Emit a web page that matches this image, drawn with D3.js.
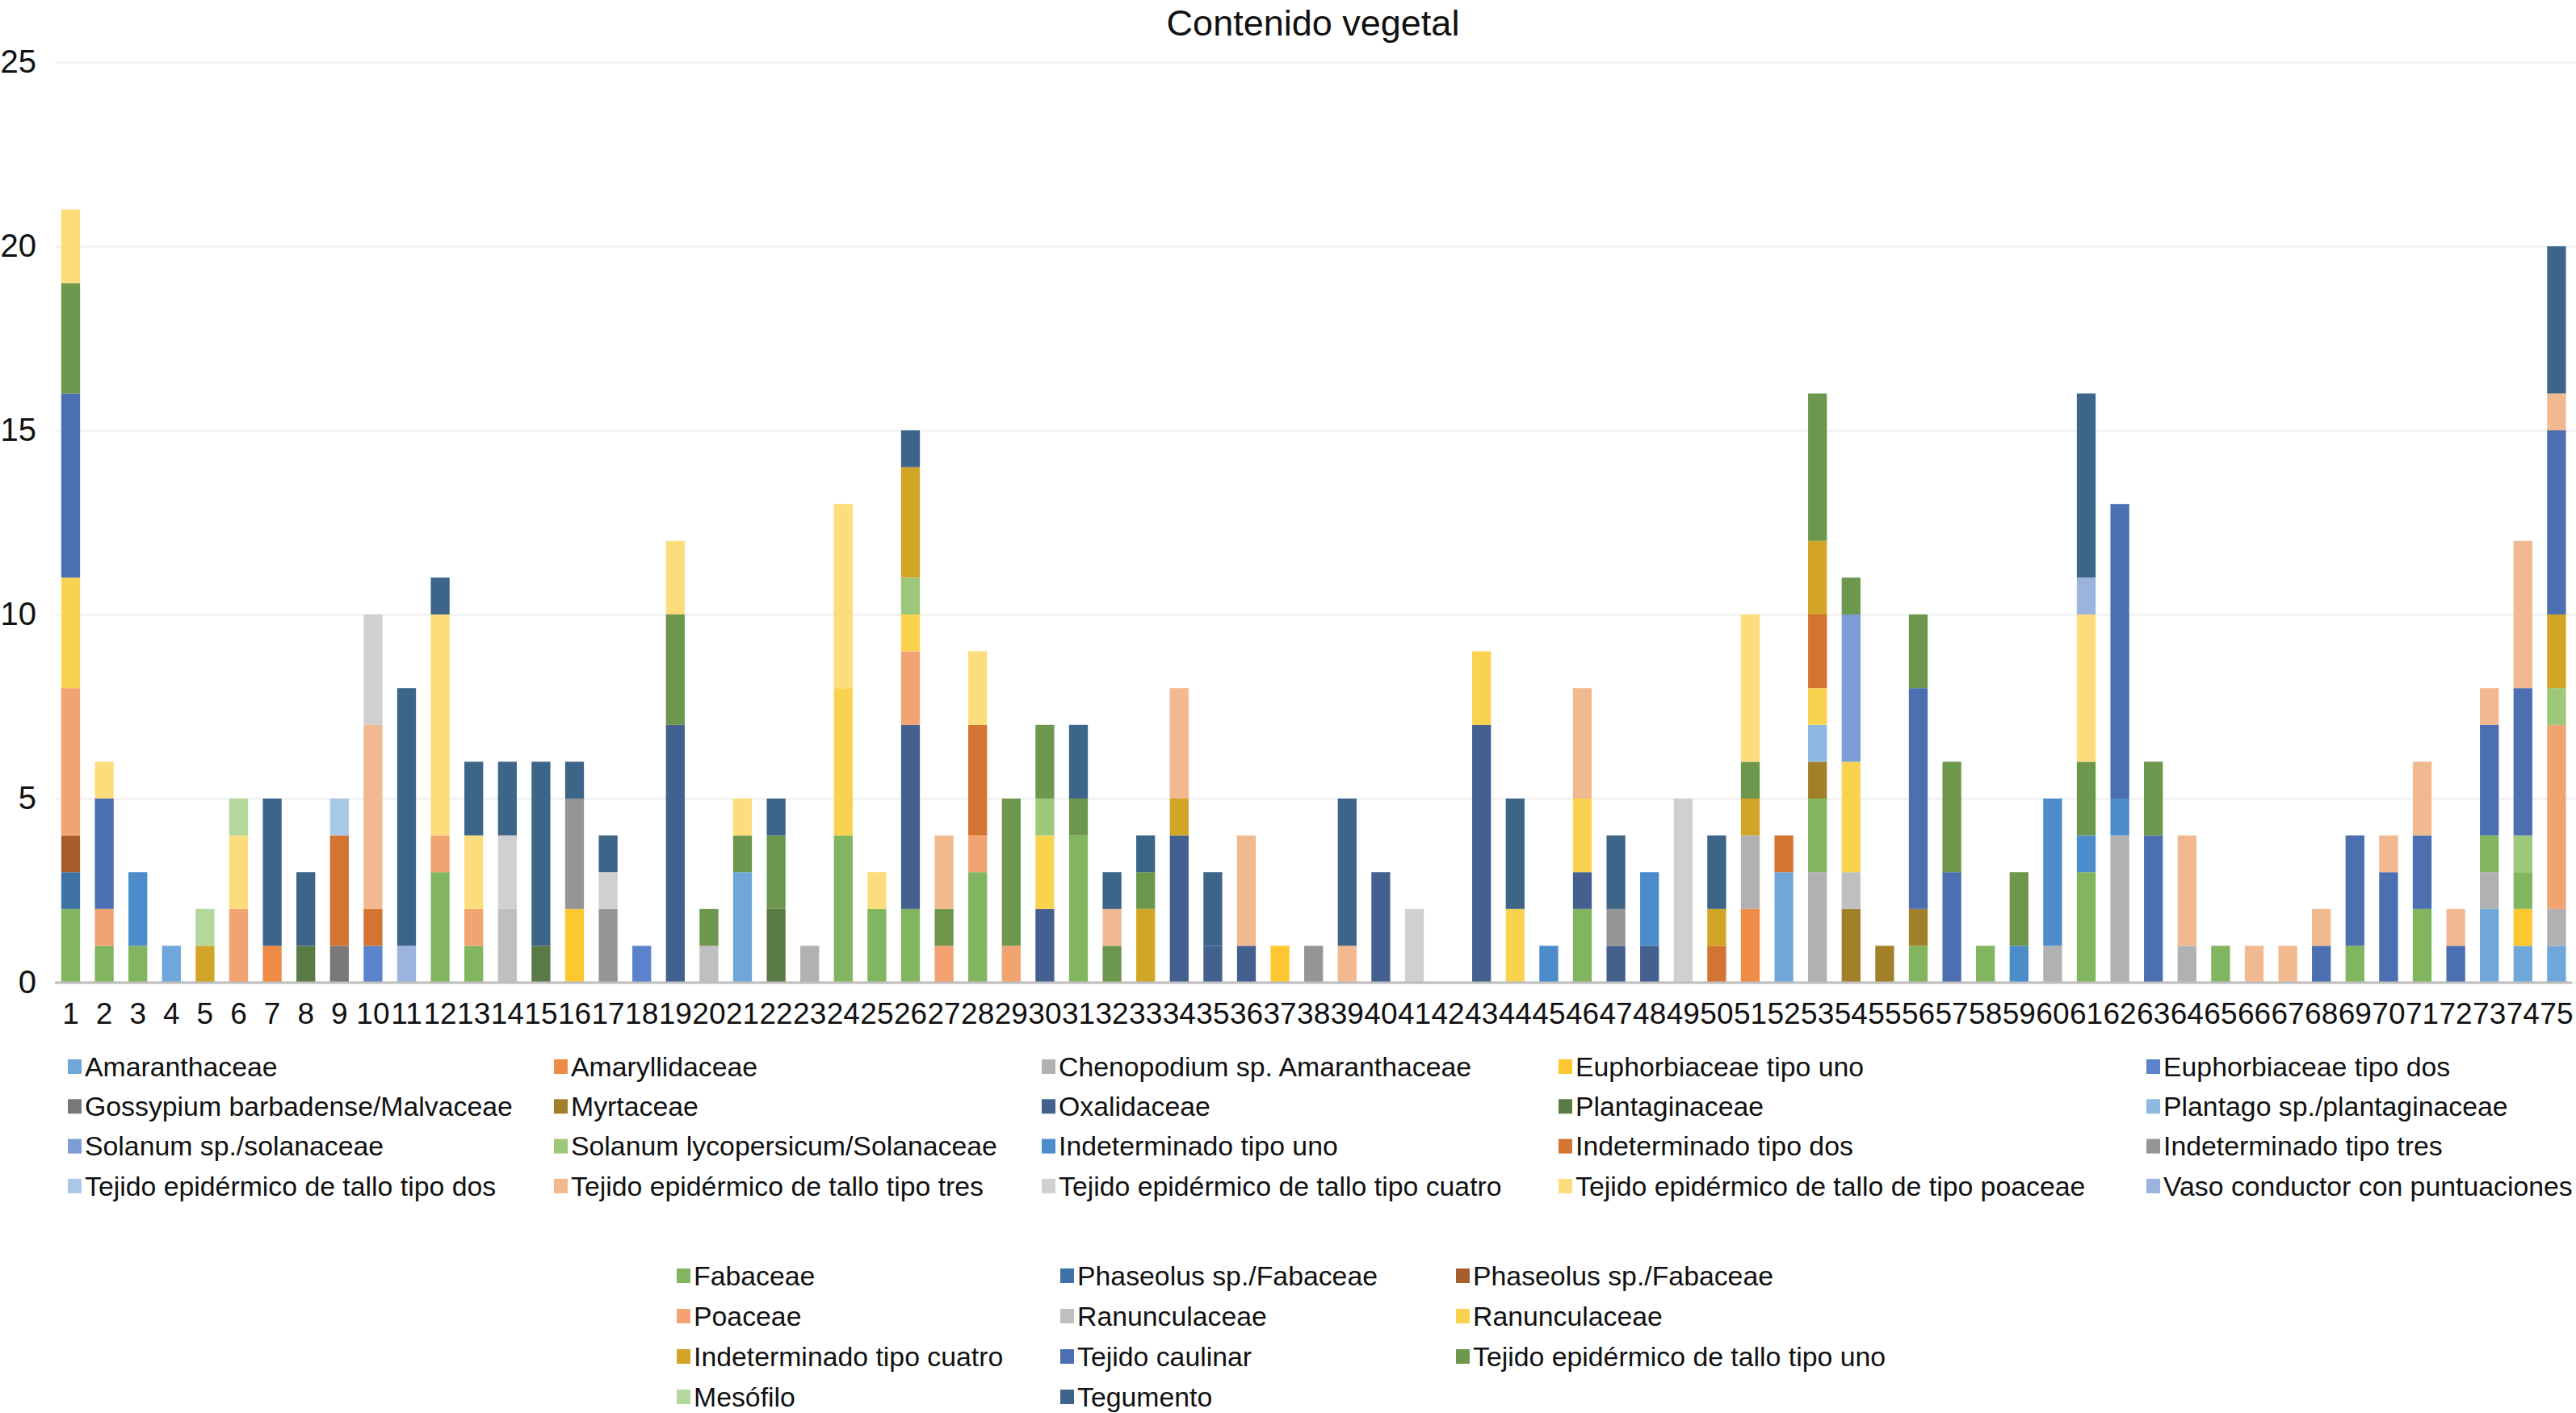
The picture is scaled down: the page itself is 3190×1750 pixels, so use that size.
<!DOCTYPE html>
<html>
<head>
<meta charset="utf-8">
<script src="https://cdn.jsdelivr.net/npm/d3@7"></script>
<style>
  body { margin: 0; background: #fff; }
  text { font-family: "Liberation Sans", Arial, Helvetica, sans-serif; fill: #111; }
</style>
</head>
<body>
<svg id="chart" width="3190" height="1750"></svg>
<script>
// muestras 1..75
var muestras = d3.range(1, 76).map(String);
var yTicks = [0, 5, 10, 15, 20, 25];

// valores por serie (muestra 1 a 75)
var amaranthaceae   = [0,0,0,1,0,0,0,0,0,0,0,0,0,0,0, 0,0,0,0,0,3,0,0,0,0,0,0,0,0,0, 0,0,0,0,0,0,0,0,0,0,0,0,0,0,0, 0,0,0,0,0,0,3,0,0,0,0,0,0,0,0, 0,0,0,0,0,0,0,0,0,0,0,0,2,1,1];
var amaryllidaceae  = [0,0,0,0,0,0,1,0,0,0,0,0,0,0,0, 0,0,0,0,0,0,0,0,0,0,0,0,0,0,0, 0,0,0,0,0,0,0,0,0,0,0,0,0,0,0, 0,0,0,0,0,2,0,0,0,0,0,0,0,0,0, 0,0,0,0,0,0,0,0,0,0,0,0,0,0,0];
var chenopodium     = [0,0,0,0,0,0,0,0,0,0,0,0,0,0,0, 0,0,0,0,0,0,0,1,0,0,0,0,0,0,0, 0,0,0,0,0,0,0,0,0,0,0,0,0,0,0, 0,0,0,0,0,2,0,3,0,0,0,0,0,0,1, 0,4,0,1,0,0,0,0,0,0,0,0,1,0,1];
var euphorbUno      = [0,0,0,0,0,0,0,0,0,0,0,0,0,0,0, 2,0,0,0,0,0,0,0,0,0,0,0,0,0,0, 0,0,0,0,0,0,1,0,0,0,0,0,0,0,0, 0,0,0,0,0,0,0,0,0,0,0,0,0,0,0, 0,0,0,0,0,0,0,0,0,0,0,0,0,1,0];
var euphorbDos      = [0,0,0,0,0,0,0,0,0,1,0,0,0,0,0, 0,0,1,0,0,0,0,0,0,0,0,0,0,0,0, 0,0,0,0,0,0,0,0,0,0,0,0,0,0,0, 0,0,0,0,0,0,0,0,0,0,0,0,0,0,0, 0,0,0,0,0,0,0,0,0,0,0,0,0,0,0];
var fabaceae        = [2,1,1,0,0,0,0,0,0,0,0,3,1,0,0, 0,0,0,0,0,0,0,0,4,2,2,0,3,0,0, 4,0,0,0,0,0,0,0,0,0,0,0,0,0,0, 2,0,0,0,0,0,0,2,0,0,1,0,1,0,0, 3,0,0,0,1,0,0,0,1,0,2,0,1,1,0];
var phaseolusA      = [1,0,0,0,0,0,0,0,0,0,0,0,0,0,0, 0,0,0,0,0,0,0,0,0,0,0,0,0,0,0, 0,0,0,0,0,0,0,0,0,0,0,0,0,0,0, 0,0,0,0,0,0,0,0,0,0,0,0,0,0,0, 0,0,0,0,0,0,0,0,0,0,0,0,0,0,0];
var phaseolusB      = [1,0,0,0,0,0,0,0,0,0,0,0,0,0,0, 0,0,0,0,0,0,0,0,0,0,0,0,0,0,0, 0,0,0,0,0,0,0,0,0,0,0,0,0,0,0, 0,0,0,0,0,0,0,0,0,0,0,0,0,0,0, 0,0,0,0,0,0,0,0,0,0,0,0,0,0,0];
var gossypium       = [0,0,0,0,0,0,0,0,1,0,0,0,0,0,0, 0,0,0,0,0,0,0,0,0,0,0,0,0,0,0, 0,0,0,0,0,0,0,0,0,0,0,0,0,0,0, 0,0,0,0,0,0,0,0,0,0,0,0,0,0,0, 0,0,0,0,0,0,0,0,0,0,0,0,0,0,0];
var myrtaceae       = [0,0,0,0,0,0,0,0,0,0,0,0,0,0,0, 0,0,0,0,0,0,0,0,0,0,0,0,0,0,0, 0,0,0,0,0,0,0,0,0,0,0,0,0,0,0, 0,0,0,0,0,0,0,1,2,1,1,0,0,0,0, 0,0,0,0,0,0,0,0,0,0,0,0,0,0,0];
var oxalidaceae     = [0,0,0,0,0,0,0,0,0,0,0,0,0,0,0, 0,0,0,7,0,0,0,0,0,0,5,0,0,0,2, 0,0,0,4,1,1,0,0,0,3,0,0,7,0,0, 1,1,1,0,0,0,0,0,0,0,0,0,0,0,0, 0,0,0,0,0,0,0,0,0,0,0,0,0,0,0];
var plantaginaceae  = [0,0,0,0,0,0,0,1,0,0,0,0,0,0,1, 0,0,0,0,0,0,2,0,0,0,0,0,0,0,0, 0,0,0,0,0,0,0,0,0,0,0,0,0,0,0, 0,0,0,0,0,0,0,0,0,0,0,0,0,0,0, 0,0,0,0,0,0,0,0,0,0,0,0,0,0,0];
var plantago        = [0,0,0,0,0,0,0,0,0,0,0,0,0,0,0, 0,0,0,0,0,0,0,0,0,0,0,0,0,0,0, 0,0,0,0,0,0,0,0,0,0,0,0,0,0,0, 0,0,0,0,0,0,0,1,0,0,0,0,0,0,0, 0,0,0,0,0,0,0,0,0,0,0,0,0,0,0];
var poaceae         = [4,1,0,0,0,2,0,0,0,0,0,1,1,0,0, 0,0,0,0,0,0,0,0,0,0,2,1,1,1,0, 0,0,0,0,0,0,0,0,0,0,0,0,0,0,0, 0,0,0,0,0,0,0,0,0,0,0,0,0,0,0, 0,0,0,0,0,0,0,0,0,0,0,0,0,0,5];
var ranuncGris      = [0,0,0,0,0,0,0,0,0,0,0,0,0,2,0, 0,0,0,0,1,0,0,0,0,0,0,0,0,0,0, 0,0,0,0,0,0,0,0,0,0,0,0,0,0,0, 0,0,0,0,0,0,0,0,1,0,0,0,0,0,0, 0,0,0,0,0,0,0,0,0,0,0,0,0,0,0];
var ranuncAmarillo  = [3,0,0,0,0,0,0,0,0,0,0,0,0,0,0, 0,0,0,0,0,0,0,0,4,0,1,0,0,0,2, 0,0,0,0,0,0,0,0,0,0,0,0,2,2,0, 2,0,0,0,0,0,0,1,3,0,0,0,0,0,0, 0,0,0,0,0,0,0,0,0,0,0,0,0,0,0];
var solanumSp       = [0,0,0,0,0,0,0,0,0,0,0,0,0,0,0, 0,0,0,0,0,0,0,0,0,0,0,0,0,0,0, 0,0,0,0,0,0,0,0,0,0,0,0,0,0,0, 0,0,0,0,0,0,0,0,4,0,0,0,0,0,0, 0,0,0,0,0,0,0,0,0,0,0,0,0,0,0];
var solanumLyc      = [0,0,0,0,0,0,0,0,0,0,0,0,0,0,0, 0,0,0,0,0,0,0,0,0,0,1,0,0,0,1, 0,0,0,0,0,0,0,0,0,0,0,0,0,0,0, 0,0,0,0,0,0,0,0,0,0,0,0,0,0,0, 0,0,0,0,0,0,0,0,0,0,0,0,0,1,1];
var indetUno        = [0,0,2,0,0,0,0,0,0,0,0,0,0,0,0, 0,0,0,0,0,0,0,0,0,0,0,0,0,0,0, 0,0,0,0,0,0,0,0,0,0,0,0,0,0,1, 0,0,2,0,0,0,0,0,0,0,0,0,0,1,4, 1,1,0,0,0,0,0,0,0,0,0,0,0,0,0];
var indetDos        = [0,0,0,0,0,0,0,0,3,1,0,0,0,0,0, 0,0,0,0,0,0,0,0,0,0,0,0,3,0,0, 0,0,0,0,0,0,0,0,0,0,0,0,0,0,0, 0,0,0,0,1,0,1,2,0,0,0,0,0,0,0, 0,0,0,0,0,0,0,0,0,0,0,0,0,0,0];
var indetTres       = [0,0,0,0,0,0,0,0,0,0,0,0,0,0,0, 3,2,0,0,0,0,0,0,0,0,0,0,0,0,0, 0,0,0,0,0,0,0,1,0,0,0,0,0,0,0, 0,1,0,0,0,0,0,0,0,0,0,0,0,0,0, 0,0,0,0,0,0,0,0,0,0,0,0,0,0,0];
var indetCuatro     = [0,0,0,0,1,0,0,0,0,0,0,0,0,0,0, 0,0,0,0,0,0,0,0,0,0,3,0,0,0,0, 0,0,2,1,0,0,0,0,0,0,0,0,0,0,0, 0,0,0,0,1,1,0,2,0,0,0,0,0,0,0, 0,0,0,0,0,0,0,0,0,0,0,0,0,0,2];
var tejCaulinar     = [5,3,0,0,0,0,0,0,0,0,0,0,0,0,0, 0,0,0,0,0,0,0,0,0,0,0,0,0,0,0, 0,0,0,0,0,0,0,0,0,0,0,0,0,0,0, 0,0,0,0,0,0,0,0,0,0,6,3,0,0,0, 0,8,4,0,0,0,0,1,3,3,2,1,3,4,5];
var tejUno          = [3,0,0,0,0,0,0,0,0,0,0,0,0,0,0, 0,0,0,3,1,1,2,0,0,0,0,1,0,4,2, 1,1,1,0,0,0,0,0,0,0,0,0,0,0,0, 0,0,0,0,0,1,0,4,1,0,2,3,0,2,0, 2,0,2,0,0,0,0,0,0,0,0,0,0,0,0];
var tejDos          = [0,0,0,0,0,0,0,0,1,0,0,0,0,0,0, 0,0,0,0,0,0,0,0,0,0,0,0,0,0,0, 0,0,0,0,0,0,0,0,0,0,0,0,0,0,0, 0,0,0,0,0,0,0,0,0,0,0,0,0,0,0, 0,0,0,0,0,0,0,0,0,0,0,0,0,0,0];
var tejTres         = [0,0,0,0,0,0,0,0,0,5,0,0,0,0,0, 0,0,0,0,0,0,0,0,0,0,0,2,0,0,0, 0,1,0,3,0,3,0,0,1,0,0,0,0,0,0, 3,0,0,0,0,0,0,0,0,0,0,0,0,0,0, 0,0,0,3,0,1,1,1,0,1,2,1,1,4,1];
var tejCuatro       = [0,0,0,0,0,0,0,0,0,3,0,0,0,2,0, 0,1,0,0,0,0,0,0,0,0,0,0,0,0,0, 0,0,0,0,0,0,0,0,0,0,2,0,0,0,0, 0,0,0,5,0,0,0,0,0,0,0,0,0,0,0, 0,0,0,0,0,0,0,0,0,0,0,0,0,0,0];
var tejPoaceae      = [2,1,0,0,0,2,0,0,0,0,0,6,2,0,0, 0,0,0,2,0,1,0,0,5,1,0,0,2,0,0, 0,0,0,0,0,0,0,0,0,0,0,0,0,0,0, 0,0,0,0,0,4,0,0,0,0,0,0,0,0,0, 4,0,0,0,0,0,0,0,0,0,0,0,0,0,0];
var vasoConductor   = [0,0,0,0,0,0,0,0,0,0,1,0,0,0,0, 0,0,0,0,0,0,0,0,0,0,0,0,0,0,0, 0,0,0,0,0,0,0,0,0,0,0,0,0,0,0, 0,0,0,0,0,0,0,0,0,0,0,0,0,0,0, 1,0,0,0,0,0,0,0,0,0,0,0,0,0,0];
var mesofilo        = [0,0,0,0,1,1,0,0,0,0,0,0,0,0,0, 0,0,0,0,0,0,0,0,0,0,0,0,0,0,0, 0,0,0,0,0,0,0,0,0,0,0,0,0,0,0, 0,0,0,0,0,0,0,0,0,0,0,0,0,0,0, 0,0,0,0,0,0,0,0,0,0,0,0,0,0,0];
var tegumento       = [0,0,0,0,0,0,4,2,0,0,7,1,2,2,5, 1,1,0,0,0,0,1,0,0,0,1,0,0,0,0, 2,1,1,0,2,0,0,0,4,0,0,0,0,3,0, 0,2,0,0,2,0,0,0,0,0,0,0,0,0,0, 5,0,0,0,0,0,0,0,0,0,0,0,0,0,4];

// orden de apilado = orden de la leyenda (8 columnas)
var nombres = [
  "Amaranthaceae", "Amaryllidaceae", "Chenopodium sp. Amaranthaceae", "Euphorbiaceae tipo uno",
  "Euphorbiaceae tipo dos", "Fabaceae", "Phaseolus sp./Fabaceae", "Phaseolus sp./Fabaceae",
  "Gossypium barbadense/Malvaceae", "Myrtaceae", "Oxalidaceae", "Plantaginaceae",
  "Plantago sp./plantaginaceae", "Poaceae", "Ranunculaceae", "Ranunculaceae",
  "Solanum sp./solanaceae", "Solanum lycopersicum/Solanaceae", "Indeterminado tipo uno", "Indeterminado tipo dos",
  "Indeterminado tipo tres", "Indeterminado tipo cuatro", "Tejido caulinar", "Tejido epidérmico de tallo tipo uno",
  "Tejido epidérmico de tallo tipo dos", "Tejido epidérmico de tallo tipo tres", "Tejido epidérmico de tallo tipo cuatro", "Tejido epidérmico de tallo de tipo poaceae",
  "Vaso conductor con puntuaciones", "Mesófilo", "Tegumento"
];
var valores = [
  amaranthaceae, amaryllidaceae, chenopodium, euphorbUno, euphorbDos, fabaceae, phaseolusA, phaseolusB,
  gossypium, myrtaceae, oxalidaceae, plantaginaceae, plantago, poaceae, ranuncGris, ranuncAmarillo,
  solanumSp, solanumLyc, indetUno, indetDos, indetTres, indetCuatro, tejCaulinar, tejUno,
  tejDos, tejTres, tejCuatro, tejPoaceae, vasoConductor, mesofilo, tegumento
];
var colores = [
  "#6FA7DB", "#EE8B45", "#B1B1B1", "#FDC82F", "#5B83CC", "#82B55F", "#3E72A6", "#A85E2C",
  "#787878", "#A2802A", "#44608F", "#5A7A46", "#8EB8E2", "#F1A371", "#BFBFBF", "#F9D350",
  "#7C9CD6", "#9DC87A", "#4C8CCB", "#D47433", "#959595", "#D3A526", "#4B6FB0", "#6E974E",
  "#A9C8E8", "#F2B990", "#D0D0D0", "#FDDC7C", "#9CB3E0", "#B4D79B", "#3D6589"
];

var svg = d3.select("#chart");
svg.append("rect").attr("width", 3190).attr("height", 1750).attr("fill", "#fff");

var x = d3.scaleBand().domain(muestras).range([66.7, 3186.7]).paddingInner(0.44).paddingOuter(0.22);
var y = d3.scaleLinear().domain([0, 25]).range([1217, 77]);

// tabla para d3.stack
var tabla = muestras.map(function(m, i) {
  var fila = { muestra: m };
  valores.forEach(function(v, k) { fila[k] = v[i]; });
  return fila;
});
var claves = d3.range(nombres.length);
var pilas = d3.stack().keys(claves)(tabla);

// rejilla
svg.append("g")
  .attr("transform", "translate(68,0)")
  .call(d3.axisLeft(y).tickValues(yTicks).tickSize(-3122).tickFormat(""))
  .call(function(g) { g.select(".domain").remove(); })
  .selectAll("line").attr("stroke", "#EEEEEE").attr("stroke-width", 2);

// barras
svg.append("g").selectAll("g")
  .data(pilas)
  .enter().append("g")
    .attr("fill", function(d) { return colores[d.key]; })
  .selectAll("rect")
  .data(function(d) { return d; })
  .enter().append("rect")
    .attr("x", function(d) { return x(d.data.muestra); })
    .attr("width", x.bandwidth())
    .attr("y", function(d) { return y(d[1]); })
    .attr("height", function(d) { return y(d[0]) - y(d[1]); });

// eje y
svg.append("g")
  .attr("transform", "translate(68,0)")
  .call(d3.axisLeft(y).tickValues(yTicks).tickSize(0).tickPadding(23))
  .call(function(g) { g.select(".domain").remove(); })
  .selectAll("text").attr("font-size", 40).attr("fill", "#111")
  .style("font-family", "'Liberation Sans', Arial, sans-serif");

// eje x
svg.append("g")
  .attr("transform", "translate(0," + y(0) + ")")
  .call(d3.axisBottom(x).tickSize(0).tickPadding(25))
  .call(function(g) { g.select(".domain").remove(); })
  .selectAll("text").attr("font-size", 37).attr("fill", "#111")
  .style("font-family", "'Liberation Sans', Arial, sans-serif");

svg.append("line")
  .attr("x1", 68).attr("x2", 3185)
  .attr("y1", y(0)).attr("y2", y(0))
  .attr("stroke", "#BDBDBD").attr("stroke-width", 3);

// titulo
svg.append("text")
  .attr("x", 1626).attr("y", 44)
  .attr("text-anchor", "middle")
  .attr("font-size", 45)
  .text("Contenido vegetal");

// leyenda: 8 columnas, partida en dos bloques (5 + 3)
var bloque1X = [84, 686, 1290, 1930, 2658];
var bloque2X = [838, 1313, 1803];
var ley = svg.append("g").selectAll("g")
  .data(nombres)
  .enter().append("g")
  .attr("transform", function(d, i) {
    var col = i % 8, fila = Math.floor(i / 8);
    if (col < 5) return "translate(" + bloque1X[col] + "," + (1321 + fila * 49.3) + ")";
    return "translate(" + bloque2X[col - 5] + "," + (1580 + fila * 50) + ")";
  });
ley.append("rect")
  .attr("x", 0).attr("y", -9).attr("width", 17).attr("height", 18)
  .attr("fill", function(d, i) { return colores[i]; });
ley.append("text")
  .attr("x", 21).attr("y", 0).attr("dy", "0.35em")
  .attr("font-size", 33.8)
  .text(function(d) { return d; });
</script>
</body>
</html>
